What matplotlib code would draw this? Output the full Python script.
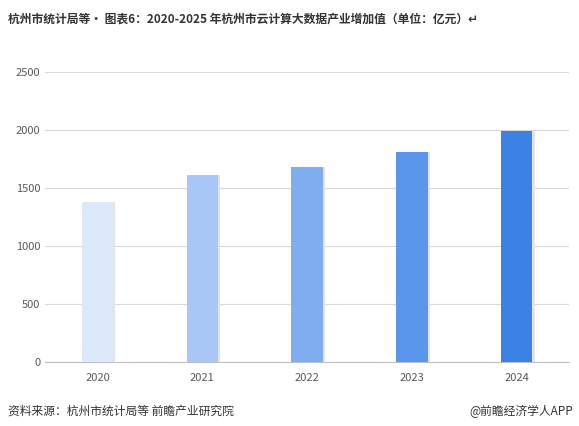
import matplotlib.pyplot as plt

plt.rcParams['font.family'] = ['Noto Sans CJK SC', 'DejaVu Sans']

years = ['2020', '2021', '2022', '2023', '2024']
values = [1380, 1612, 1681, 1810, 1992]
colors = ['#dce9fb', '#a9c8f5', '#7eaef0', '#5a97ea', '#3c82e4']

fig = plt.figure(figsize=(5.79, 4.26), dpi=100)
ax = fig.add_axes([0.078, 0.15, 0.905, 0.68])

x = range(len(years))
# faint shadow behind each bar
ax.bar([i + 0.02 for i in x], values, width=0.3, color='#e3e3e3', zorder=2)
ax.bar(x, values, width=0.3, color=colors, zorder=3)

ax.set_ylim(0, 2500)
ax.set_yticks(range(0, 2501, 500))
ax.set_xticks(list(x))
ax.set_xticklabels(years)
ax.set_xlim(-0.5, 4.5)
ax.grid(axis='y', color='#d9d9d9', linewidth=0.8, zorder=0)
for s in ['top', 'right', 'left']:
    ax.spines[s].set_visible(False)
ax.spines['bottom'].set_color('#bfbfbf')
ax.tick_params(axis='both', length=0, labelsize=8, colors='#595959')
ax.tick_params(axis='x', pad=8)

fig.text(0.014, 0.955, '杭州市统计局等· 图表6：2020-2025 年杭州市云计算大数据产业增加值（单位：亿元）↵',
         fontsize=8.5, fontweight='bold', color='#333333', va='center')
fig.text(0.014, 0.035, '资料来源：杭州市统计局等 前瞻产业研究院', fontsize=8.5, color='#333333', va='center')
fig.text(0.99, 0.035, '@前瞻经济学人APP', fontsize=8.5, color='#333333', va='center', ha='right')

fig.savefig('out.png', dpi=100)
